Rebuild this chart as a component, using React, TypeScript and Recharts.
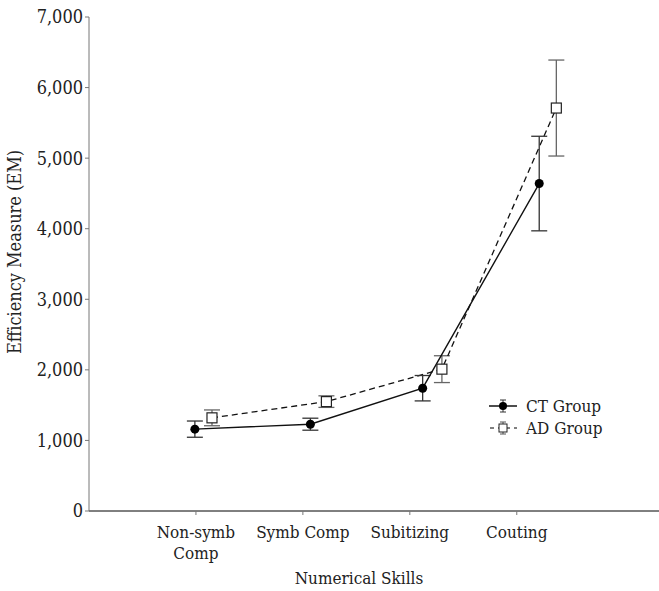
import { ErrorBar, Label, Line, LineChart, XAxis, YAxis } from "recharts"

const skills = ["Non-symb\nComp", "Symb Comp", "Subitizing", "Couting"]
const skillTicks = [1, 2, 3, 4]
const yTicks = [0, 1000, 2000, 3000, 4000, 5000, 6000, 7000]

// points are drawn a bit off the tick, like in the original figure
const ctPos = [0.99, 2.07, 3.12, 4.21]
const ctMean = [1160, 1230, 1740, 4640]
const ctErr = [115, 85, 180, 670]

const adPos = [1.15, 2.22, 3.3, 4.37]
const adMean = [1320, 1550, 2010, 5710]
const adErr = [112, 82, 190, 680]

const ctData = ctPos.map((x, i) => ({ x, y: ctMean[i], err: ctErr[i] }))
const adData = adPos.map((x, i) => ({ x, y: adMean[i], err: adErr[i] }))

const FONT = "'DejaVu Serif Condensed', serif"

const SkillTick = (props: any) => {
  const { x, y, payload } = props
  const lines = skills[payload.value - 1].split("\n")
  return (
    <text x={x} y={y + 21} textAnchor="middle" fontFamily={FONT} fontSize={17} fill="#222">
      {lines.map((l: string, i: number) => (
        <tspan key={i} x={x} dy={i === 0 ? 0 : 21}>{l}</tspan>
      ))}
    </text>
  )
}

const CircleDot = (props: any) => {
  const { cx, cy } = props
  return <circle cx={cx} cy={cy} r={4.5} fill="#000" />
}

const SquareDot = (props: any) => {
  const { cx, cy } = props
  return <rect x={cx - 5} y={cy - 5} width={10} height={10} fill="#fff" stroke="#222" strokeWidth={1.2} />
}

const LegendBox = () => (
  <div
    style={{
      position: "absolute",
      left: 489,
      top: 395,
      fontFamily: FONT,
      fontSize: 17,
      color: "#222",
      lineHeight: "22px",
    }}
  >
    <div style={{ display: "flex", alignItems: "center" }}>
      <svg width={30} height={14} style={{ marginRight: 7 }}>
        <line x1={0} y1={7} x2={28} y2={7} stroke="#000" strokeWidth={1.4} />
        <line x1={14} y1={1} x2={14} y2={13} stroke="#333" />
        <line x1={11} y1={1} x2={17} y2={1} stroke="#333" />
        <line x1={11} y1={13} x2={17} y2={13} stroke="#333" />
        <circle cx={14} cy={7} r={4} fill="#000" />
      </svg>
      CT Group
    </div>
    <div style={{ display: "flex", alignItems: "center" }}>
      <svg width={30} height={14} style={{ marginRight: 7 }}>
        <line x1={0} y1={7} x2={28} y2={7} stroke="#000" strokeWidth={1.2} strokeDasharray="4 4" strokeDashoffset={-1} />
        <line x1={14} y1={1} x2={14} y2={13} stroke="#555" />
        <line x1={11} y1={1} x2={17} y2={1} stroke="#555" />
        <line x1={11} y1={13} x2={17} y2={13} stroke="#555" />
        <rect x={10} y={3} width={8} height={8} fill="#fff" stroke="#222" />
      </svg>
      AD Group
    </div>
  </div>
)

export default function App() {
  return (
    <div style={{ position: "absolute", left: 0, top: 0, width: 659, height: 591, background: "#fff" }}>
      <LineChart width={659} height={591} margin={{ top: 17, right: 0, bottom: 0, left: 0 }}>
        <XAxis
          type="number"
          dataKey="x"
          domain={[0, 5.33]}
          ticks={skillTicks}
          tick={<SkillTick />}
          tickSize={4}
          height={80}
          stroke="#000"
          tickLine={{ stroke: "#777" }}
          allowDataOverflow
        >
          <Label
            content={() => (
              <text x={359} y={584} textAnchor="middle" fontFamily={FONT} fontSize={17} fill="#222">
                Numerical Skills
              </text>
            )}
          />
        </XAxis>
        <YAxis
          type="number"
          domain={[0, 7000]}
          ticks={yTicks}
          width={89}
          tickSize={4}
          stroke="#777"
          tick={{ fontFamily: FONT, fontSize: 18, fill: "#222" }}
          tickFormatter={(v: number) => v.toLocaleString("en-US")}
        >
          <Label
            content={() => (
              <text
                x={16}
                y={252}
                transform="rotate(-90 16 252)"
                textAnchor="middle"
                dominantBaseline="middle"
                fontFamily={FONT}
                fontSize={18}
                fill="#222"
              >
                Efficiency Measure (EM)
              </text>
            )}
          />
        </YAxis>
        <Line
          data={adData}
          dataKey="y"
          name="AD Group"
          stroke="#111"
          strokeWidth={1.3}
          strokeDasharray="6 4"
          dot={<SquareDot />}
          isAnimationActive={false}
        >
          <ErrorBar dataKey="err" direction="y" width={8} stroke="#666" strokeWidth={1.3} />
        </Line>
        <Line
          data={ctData}
          dataKey="y"
          name="CT Group"
          stroke="#111"
          strokeWidth={1.4}
          dot={<CircleDot />}
          isAnimationActive={false}
        >
          <ErrorBar dataKey="err" direction="y" width={8} stroke="#333" strokeWidth={1.3} />
        </Line>
      </LineChart>
      <LegendBox />
    </div>
  )
}
